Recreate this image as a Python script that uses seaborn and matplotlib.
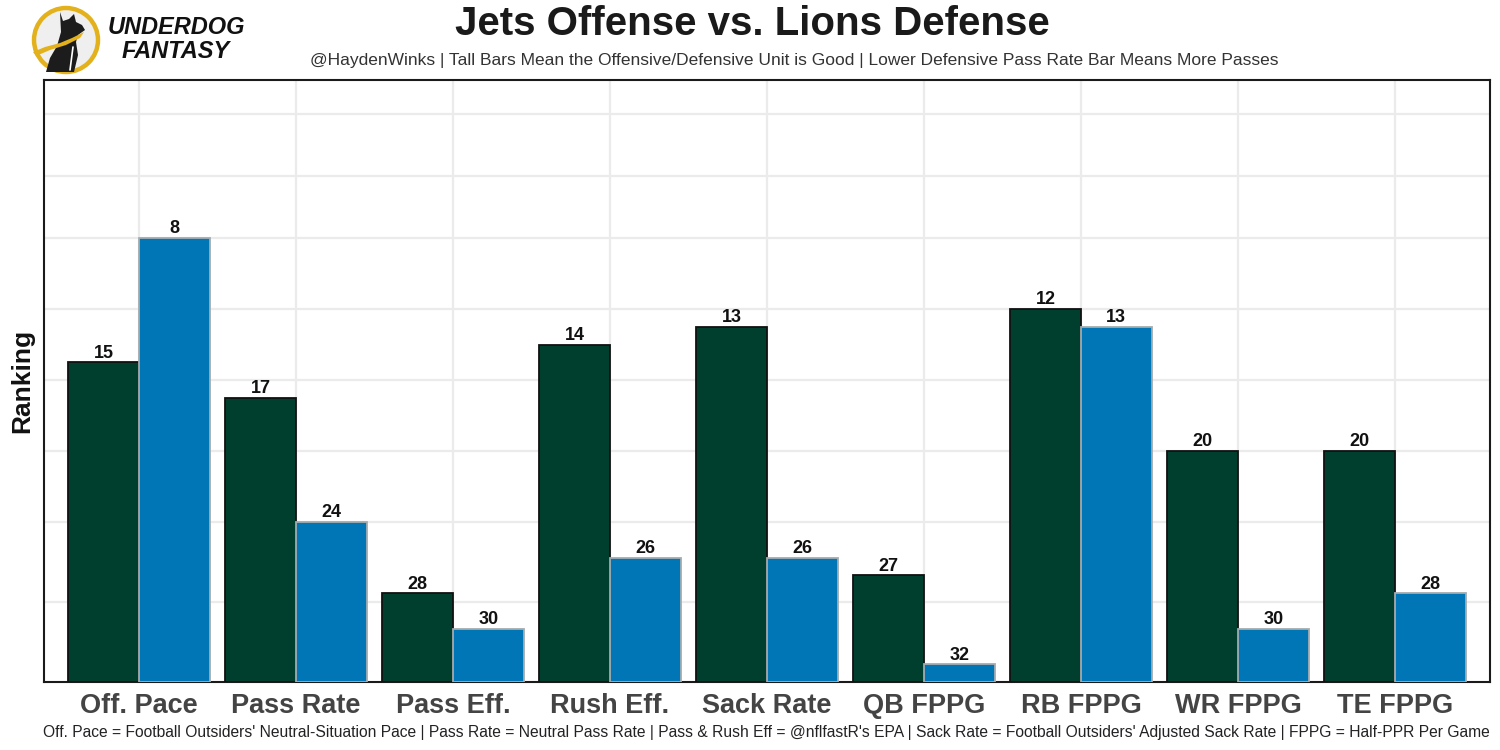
import matplotlib
matplotlib.use("Agg")
import matplotlib.pyplot as plt
import seaborn as sns
import pandas as pd
from matplotlib.patches import Circle, Polygon

# ---------------- data ----------------
categories = ["Off. Pace", "Pass Rate", "Pass Eff.", "Rush Eff.", "Sack Rate",
              "QB FPPG", "RB FPPG", "WR FPPG", "TE FPPG"]
units = ["Jets Offense", "Lions Defense"]
jets_offense_rank = [15, 17, 28, 14, 13, 27, 12, 20, 20]
lions_defense_rank = [8, 24, 30, 26, 26, 32, 13, 30, 28]
grid_heights = [4.5, 9, 13, 17, 21, 25, 28.5, 32]

title = "Jets Offense vs. Lions Defense"
subtitle = ("@HaydenWinks | Tall Bars Mean the Offensive/Defensive Unit is Good | "
            "Lower Defensive Pass Rate Bar Means More Passes")
caption = ("Off. Pace = Football Outsiders' Neutral-Situation Pace | Pass Rate = Neutral Pass Rate | "
           "Pass & Rush Eff = @nflfastR's EPA | Sack Rate = Football Outsiders' Adjusted Sack Rate | "
           "FPPG = Half-PPR Per Game")

GREEN = "#003F2D"
BLUE = "#0076B6"
EDGES = ["#111111", "#A5ACAF"]
GOLD = "#E3B11C"

sns.set_theme(style="white")
plt.rcParams['font.family'] = ['Liberation Sans', 'DejaVu Sans']

df = pd.DataFrame({
    "Category": categories * 2,
    "Unit": [units[0]] * len(categories) + [units[1]] * len(categories),
    "Rank": jets_offense_rank + lions_defense_rank,
})
df["Height"] = 33 - df["Rank"]

W, H = 1500, 750
fig = plt.figure(figsize=(15, 7.5), dpi=100)
fig.patch.set_facecolor("white")
ax = fig.add_axes([44 / W, 1 - 682 / H, (1490 - 44) / W, (682 - 80) / H])

sns.barplot(data=df, x="Category", y="Height", hue="Unit", order=categories,
            hue_order=units, palette=[GREEN, BLUE], width=0.9, saturation=1,
            legend=False, ax=ax, zorder=3)

for cont, ec, ranks in zip(ax.containers, EDGES, [jets_offense_rank, lions_defense_rank]):
    for bar in cont:
        bar.set_edgecolor(ec)
        bar.set_linewidth(1.3)
    ax.bar_label(cont, labels=[str(r) for r in ranks], padding=0.5,
                 fontsize=13, fontweight="bold", color="#111111")

ax.set_xlim(-0.605, 8.605)
ax.set_ylim(0, 33.9)
ax.set_yticks(grid_heights)
ax.set_yticklabels([])
ax.tick_params(axis="y", length=0)
ax.tick_params(axis="x", length=0, pad=8, labelsize=19.5, labelcolor="#444444")
for lbl in ax.get_xticklabels():
    lbl.set_fontweight("bold")
ax.grid(True, color="#EBEBEB", linewidth=1.6)
ax.set_axisbelow(True)
for s in ax.spines.values():
    s.set_visible(True)
    s.set_color("#1a1a1a")
    s.set_linewidth(1.5)
ax.set_xlabel("")
ax.set_ylabel("Ranking", fontsize=19, fontweight="bold", color="#111111", labelpad=3.5)

fig.text(752 / W, 1 - 24 / H, title, ha="center", va="center",
         fontsize=29, fontweight="bold", color="#1a1a1a")
fig.text(794 / W, 1 - 61 / H, subtitle, ha="center", va="center",
         fontsize=12.5, color="#333333")
fig.text(1490 / W, 1 - 732 / H, caption, ha="right", va="center",
         fontsize=11.27, color="#222222")

# ---------------- logo ----------------
lax = fig.add_axes([28 / W, 1 - 78 / H, 76 / W, 76 / H])
lax.set_xlim(28, 104)
lax.set_ylim(78, 2)
lax.set_aspect("equal")
lax.axis("off")
lax.add_patch(Circle((66, 40), 32, facecolor="#EFEFEF", edgecolor=GOLD, linewidth=3.2))
dog = [(60, 12), (63, 21), (69, 19), (74, 14), (76, 22), (82, 25), (85, 30),
       (78, 35), (76, 42), (78, 55), (74, 72), (46, 72), (50, 58), (57, 46), (61, 32)]
lax.add_patch(Polygon(dog, closed=True, facecolor="#1c1c1c", edgecolor="none"))
swoosh = [(33, 52), (45, 47), (60, 43), (72, 38), (84, 32), (80, 38), (66, 45),
          (50, 50), (36, 56)]
lax.add_patch(Polygon(swoosh, closed=True, facecolor=GOLD, edgecolor="none"))
lax.plot([73, 70], [47, 70], color="white", linewidth=1.2)

fig.text(176 / W, 1 - 27 / H, "UNDERDOG", ha="center", va="center", fontsize=17,
         fontweight="bold", style="italic", color="#111111")
fig.text(176 / W, 1 - 52 / H, "FANTASY", ha="center", va="center", fontsize=17,
         fontweight="bold", style="italic", color="#111111")

fig.savefig("out.png", dpi=100, facecolor="white")
